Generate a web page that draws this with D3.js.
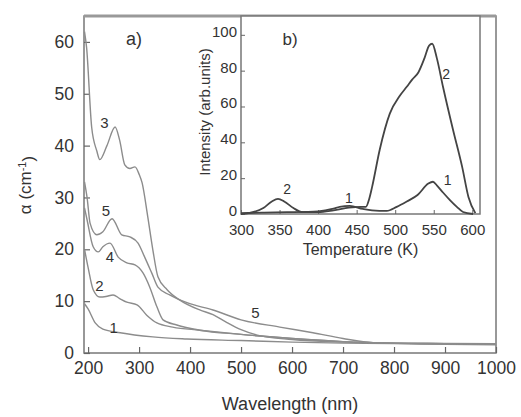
<!DOCTYPE html>
<html>
<head>
<meta charset="utf-8">
<script src="https://cdn.jsdelivr.net/npm/d3@7/dist/d3.min.js"></script>
<style>
  body { margin: 0; background: #fff; }
  text { font-family: Arial, "Liberation Sans", sans-serif; fill: #333; }
</style>
</head>
<body>
<div id="chart"></div>
<script>
// main panel a): absorption alpha (cm^-1) vs wavelength (nm)
const wl1 = [193, 200, 214, 229, 263, 327, 394, 500, 600, 700, 800, 900, 1000]
const a1 = [9.5, 8.5, 5.8, 4.6, 3.9, 3.1, 2.7, 2.4, 2.1, 1.9, 1.8, 1.7, 1.6]
const wl2 = [193, 200, 210, 223, 235, 249, 262, 276, 296, 315, 335, 366, 419, 500, 600, 700, 800, 900, 1000]
const a2 = [20, 16.5, 12.2, 10.8, 10.9, 11.2, 10.5, 9.8, 9.3, 7.3, 5.8, 5.0, 4.4, 3.6, 2.8, 2.2, 1.9, 1.8, 1.7]
const wl3 = [193, 197, 207, 217, 223, 237, 253, 262, 272, 282, 292, 300, 306, 317, 327, 337, 355, 380, 419, 445, 470, 500, 530, 600, 700, 800, 1000]
const a3 = [62, 59, 43.6, 39, 37.3, 40, 43.6, 41, 36.3, 35.6, 35.9, 34.5, 32.8, 26.3, 19.9, 14.7, 12.2, 10.2, 8.3, 7.4, 6, 4.5, 3.5, 2.6, 2.1, 1.9, 1.8]
const wl4 = [193, 198, 210, 220, 229, 243, 259, 276, 292, 308, 321, 335, 347, 374, 419, 500, 600, 700, 800, 900, 1000]
const a4 = [28, 25.7, 20.5, 19.5, 20.5, 21.2, 18.5, 17.4, 17, 15.4, 12.7, 8.9, 6.4, 5.4, 4.4, 3.6, 2.8, 2.2, 1.9, 1.8, 1.7]
const wl5 = [193, 198, 204, 217, 229, 247, 266, 282, 298, 311, 325, 337, 360, 394, 445, 500, 576, 641, 700, 760, 850, 1000]
const a5 = [33, 30, 25, 22.8, 23.4, 25.9, 22.8, 22.4, 21.2, 18.5, 15.4, 12.7, 11.2, 9.7, 8.3, 6.4, 5.0, 3.9, 2.8, 2.0, 1.8, 1.8]

// inset b): intensity vs temperature (K)
const t1 = [300, 330, 360, 400, 420, 428, 441, 458, 470, 489, 502, 515, 529, 543, 549, 554, 562, 571, 580, 588, 601]
const i1 = [0.5, 0.8, 1, 1.5, 3, 4, 4.5, 2.8, 2, 1.7, 4, 7, 10.6, 17, 18, 16, 12, 7.8, 4, 1.1, 0]
const t2 = [300, 310, 329, 340, 348, 356, 368, 380, 400, 420, 440, 455, 462, 466, 470, 480, 493, 506, 515, 522, 530, 538, 544, 548, 554, 562, 575, 587, 595, 604]
const i2 = [0, 0.5, 3.3, 7, 8.4, 7, 3.3, 1, 1, 2, 3.5, 4, 4, 8, 15, 36, 56, 66, 71, 75, 79, 87, 94, 95, 87, 71, 47, 26, 9.5, 0.5]

const xTicksA = [200, 300, 400, 500, 600, 700, 800, 900, 1000]
const yTicksA = [0, 10, 20, 30, 40, 50, 60]
const xTicksB = [300, 350, 400, 450, 500, 550, 600]
const yTicksB = [0, 20, 40, 60, 80, 100]

const seriesA = [
  {x: wl1, y: a1}, {x: wl2, y: a2}, {x: wl3, y: a3}, {x: wl4, y: a4}, {x: wl5, y: a5}
]
const seriesB = [{x: t1, y: i1}, {x: t2, y: i2}]

const width = 521
const height = 417
const svg = d3.select('#chart')
  .append('svg')
  .attr('width', width)
  .attr('height', height)

const x = d3.scaleLinear().domain([192, 1000]).range([84, 496])
const y = d3.scaleLinear().domain([0, 65]).range([353, 16])
const xb = d3.scaleLinear().domain([300, 610]).range([241, 480])
const yb = d3.scaleLinear().domain([0, 110.5]).range([214, 16])

const lineColor = '#8c8c8c'
const fmt = d3.format('d')

// main frame
svg.append('rect')
  .attr('x', x.range()[0]).attr('y', y.range()[1])
  .attr('width', x.range()[1] - x.range()[0])
  .attr('height', y.range()[0] - y.range()[1])
  .attr('fill', 'none').attr('stroke', '#777').attr('stroke-width', 1.5)
svg.append('line')
  .attr('x1', x.range()[0]).attr('x2', x.range()[1])
  .attr('y1', 16).attr('y2', 16)
  .attr('stroke', '#999').attr('stroke-width', 3)

// main ticks (inward)
const xa = svg.append('g').attr('transform', `translate(0,${y(0)})`)
xa.call(d3.axisBottom(x).tickValues(d3.range(250, 1000, 100)).tickSize(-3).tickFormat(''))
xa.call(d3.axisBottom(x).tickValues(xTicksA).tickSize(-6).tickFormat(''))
const xaLab = svg.append('g').attr('transform', `translate(0,${y(0)})`)
xaLab.call(d3.axisBottom(x).tickValues(xTicksA).tickSize(0).tickPadding(9).tickFormat(fmt))

const ya = svg.append('g').attr('transform', `translate(${x.range()[0]},0)`)
ya.call(d3.axisLeft(y).tickValues(d3.range(0, 65, 2)).tickSize(-3).tickFormat(''))
ya.call(d3.axisLeft(y).tickValues(yTicksA).tickSize(-6).tickFormat(''))
const yaLab = svg.append('g').attr('transform', `translate(${x.range()[0]},0)`)
yaLab.call(d3.axisLeft(y).tickValues(yTicksA).tickSize(0).tickPadding(10).tickFormat(fmt))

svg.selectAll('.domain').remove()
svg.selectAll('.tick line').attr('stroke', '#666').attr('stroke-width', 1.2)
svg.selectAll('.tick text').style('font-size', '17.5px').attr('fill', '#333')

// main curves
const lineA = d3.line()
  .x(d => x(d[0]))
  .y(d => y(d[1]))
  .curve(d3.curveMonotoneX)
svg.append('g')
  .selectAll('path')
  .data(seriesA)
  .enter()
  .append('path')
  .attr('d', s => lineA(s.x.map((v, i) => [v, s.y[i]])))
  .attr('fill', 'none')
  .attr('stroke', lineColor)
  .attr('stroke-width', 1.4)

// inset panel
svg.append('rect')
  .attr('x', xb.range()[0]).attr('y', 16)
  .attr('width', xb.range()[1] - xb.range()[0])
  .attr('height', yb.range()[0] - 16)
  .attr('fill', '#fff').attr('stroke', '#777').attr('stroke-width', 1.5)

const xbAx = svg.append('g').attr('class', 'inset').attr('transform', `translate(0,${yb(0)})`)
xbAx.call(d3.axisBottom(xb).tickValues(d3.range(310, 610, 10)).tickSize(-2).tickFormat(''))
xbAx.call(d3.axisBottom(xb).tickValues(xTicksB).tickSize(-4).tickPadding(4).tickFormat(fmt))
const ybAx = svg.append('g').attr('class', 'inset').attr('transform', `translate(${xb.range()[0]},0)`)
ybAx.call(d3.axisLeft(yb).tickValues(yTicksB).tickSize(-4).tickPadding(4).tickFormat(fmt))
svg.selectAll('.inset .domain').remove()
svg.selectAll('.inset .tick line').attr('stroke', '#666')
svg.selectAll('.inset .tick text').style('font-size', '15px').attr('fill', '#333')
xbAx.selectAll('.tick text').attr('dy', '1.1em')
ybAx.selectAll('.tick text').attr('dy', '0.1em')

const lineB = d3.line()
  .x(d => xb(d[0]))
  .y(d => yb(d[1]))
  .curve(d3.curveMonotoneX)
svg.append('g')
  .selectAll('path')
  .data(seriesB)
  .enter()
  .append('path')
  .attr('d', s => lineB(s.x.map((v, i) => [v, s.y[i]])))
  .attr('fill', 'none')
  .attr('stroke', '#444')
  .attr('stroke-width', 1.8)

// curve labels
const labelsA = [
  {t: '1', x: 250, y: 4.8}, {t: '2', x: 222, y: 13}, {t: '3', x: 232, y: 44.5},
  {t: '4', x: 243, y: 18.5}, {t: '5', x: 235, y: 27.5}, {t: '5', x: 528, y: 7.7}
]
svg.append('g')
  .selectAll('text')
  .data(labelsA)
  .enter()
  .append('text')
  .attr('x', d => x(d.x))
  .attr('y', d => y(d.y))
  .attr('text-anchor', 'middle')
  .attr('dy', '0.35em')
  .style('font-size', '15px')
  .text(d => d.t)

const labelsB = [
  {t: '2', x: 360, y: 14}, {t: '1', x: 440, y: 9}, {t: '2', x: 566, y: 78}, {t: '1', x: 568, y: 19}
]
svg.append('g')
  .selectAll('text')
  .data(labelsB)
  .enter()
  .append('text')
  .attr('x', d => xb(d.x))
  .attr('y', d => yb(d.y))
  .attr('text-anchor', 'middle')
  .attr('dy', '0.35em')
  .style('font-size', '14px')
  .text(d => d.t)

svg.append('text').attr('x', 134).attr('y', 45).style('font-size', '18px').text('a)').attr('text-anchor', 'middle')
svg.append('text').attr('x', 290).attr('y', 45).style('font-size', '17px').text('b)').attr('text-anchor', 'middle')

// axis titles
svg.append('text')
  .attr('x', (x.range()[0] + x.range()[1]) / 2)
  .attr('y', 410)
  .attr('text-anchor', 'middle')
  .style('font-size', '18px')
  .text('Wavelength (nm)')

const yTitle = svg.append('text')
  .attr('transform', 'translate(31,185) rotate(-90)')
  .attr('text-anchor', 'middle')
  .style('font-size', '17px')
yTitle.append('tspan').text('\u03b1 (cm')
yTitle.append('tspan').attr('dy', '-0.5em').style('font-size', '11px').text('-1')
yTitle.append('tspan').attr('dy', '0.5em').text(')')

svg.append('text')
  .attr('x', (xb.range()[0] + xb.range()[1]) / 2)
  .attr('y', 255)
  .attr('text-anchor', 'middle')
  .style('font-size', '16px')
  .text('Temperature (K)')

svg.append('text')
  .attr('transform', 'translate(210,112) rotate(-90)')
  .attr('text-anchor', 'middle')
  .style('font-size', '15px')
  .text('Intensity (arb.units)')
</script>
</body>
</html>
